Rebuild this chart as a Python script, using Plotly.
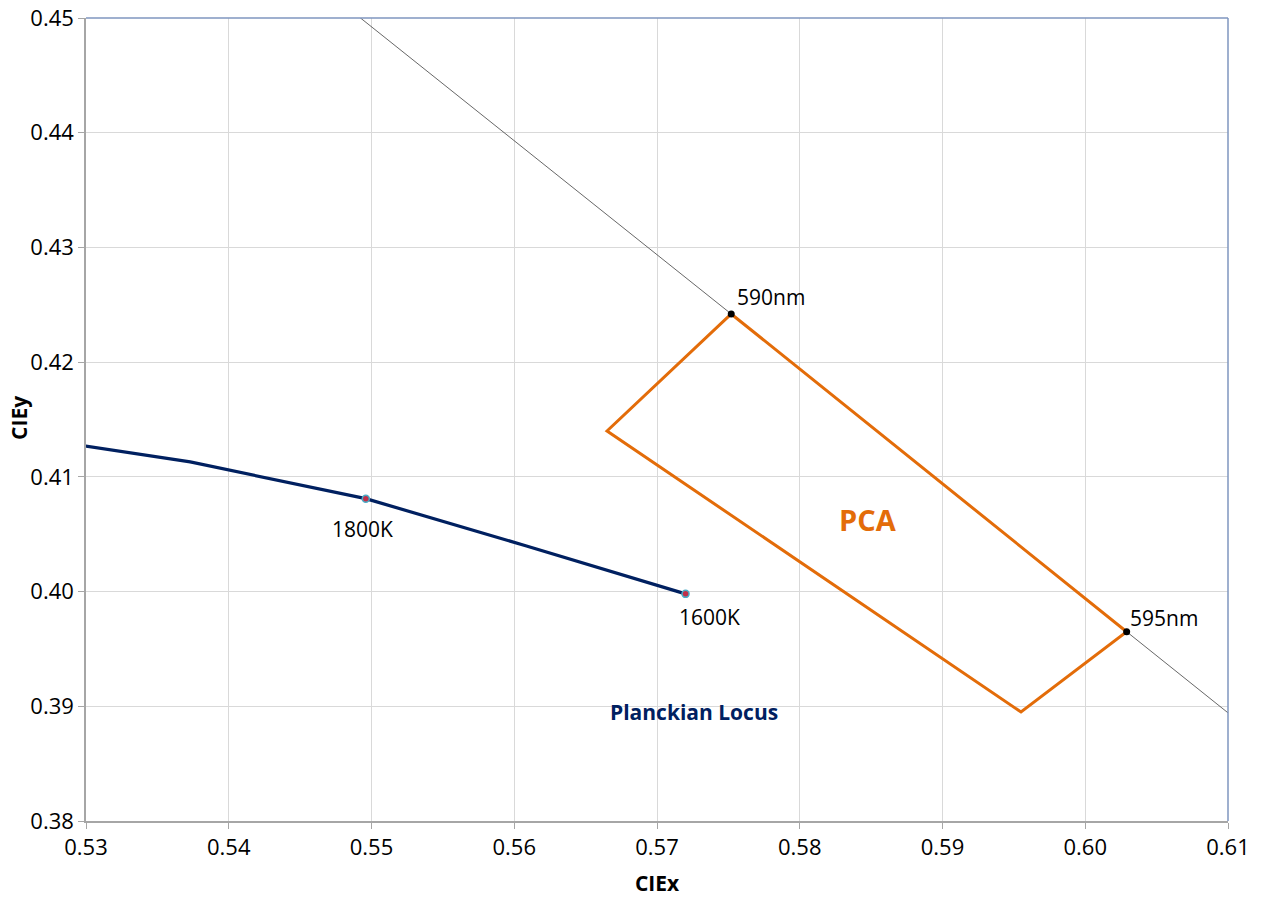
import plotly.graph_objects as go

# Spectral locus (CIE 1931) points
spec_nm = ["585nm", "590nm", "595nm", "600nm"]
spec_x = [0.5448, 0.5752, 0.6029, 0.6270]
spec_y = [0.4544, 0.4242, 0.3965, 0.3725]

# Marked wavelengths
mark_nm = ["590nm", "595nm"]
mark_x = [0.5752, 0.6029]
mark_y = [0.4242, 0.3965]

# PCA region (closed quadrilateral)
pca_x = [0.5752, 0.5665, 0.5955, 0.6029, 0.5752]
pca_y = [0.4242, 0.4140, 0.3895, 0.3965, 0.4242]

# Planckian locus
planck_T = ["2000K", "1900K", "1800K", "1700K", "1600K"]
planck_x = [0.5267, 0.5373, 0.5496, 0.5608, 0.5720]
planck_y = [0.4133, 0.4113, 0.4081, 0.4040, 0.3998]

marked_T = ["1800K", "1600K"]
marked_Tx = [0.5496, 0.5720]
marked_Ty = [0.4081, 0.3998]

FONT = "Open Sans"
NAVY = "#002060"
ORANGE = "#E36C09"

fig = go.Figure()

fig.add_trace(go.Scatter(x=spec_x, y=spec_y, mode="lines",
                         line=dict(color="#404040", width=0.8),
                         hoverinfo="skip", showlegend=False))

fig.add_trace(go.Scatter(x=pca_x, y=pca_y, mode="lines",
                         line=dict(color=ORANGE, width=3),
                         showlegend=False))

fig.add_trace(go.Scatter(x=planck_x, y=planck_y, mode="lines",
                         line=dict(color=NAVY, width=3.2),
                         showlegend=False))

fig.add_trace(go.Scatter(x=marked_Tx, y=marked_Ty, mode="markers",
                         marker=dict(size=7, color="#C0304A",
                                     line=dict(color="#4BACC6", width=1.5)),
                         showlegend=False))

fig.add_trace(go.Scatter(x=mark_x, y=mark_y, mode="markers",
                         marker=dict(size=7, color="#000000"),
                         showlegend=False))

LBL = dict(family=FONT, size=21, color="#000000")
# wavelength labels
fig.add_annotation(x=mark_x[0], y=mark_y[0], text=mark_nm[0], showarrow=False,
                   xanchor="left", yanchor="middle", xshift=4, yshift=17, font=LBL)
fig.add_annotation(x=mark_x[1], y=mark_y[1], text=mark_nm[1], showarrow=False,
                   xanchor="left", yanchor="middle", xshift=1, yshift=14, font=LBL)
# temperature labels
fig.add_annotation(x=marked_Tx[0], y=marked_Ty[0], text=marked_T[0], showarrow=False,
                   xanchor="center", yanchor="middle", xshift=-3, yshift=-30, font=LBL)
fig.add_annotation(x=marked_Tx[1], y=marked_Ty[1], text=marked_T[1], showarrow=False,
                   xanchor="center", yanchor="middle", xshift=24, yshift=-23, font=LBL)

fig.add_annotation(x=0.5848, y=0.4063, text="<b>PCA</b>", showarrow=False,
                   font=dict(family=FONT, size=29, color=ORANGE))
fig.add_annotation(x=0.5726, y=0.3895, text="<b>Planckian Locus</b>", showarrow=False,
                   font=dict(family=FONT, size=21, color=NAVY))

# y axis title
fig.add_annotation(xref="paper", yref="paper", x=0, y=0.502, text="<b>CIEy</b>",
                   textangle=-90, showarrow=False, xanchor="center", yanchor="middle",
                   xshift=-67, font=dict(family=FONT, size=21, color="#000000"))

# top and right border of plot area
fig.add_shape(type="line", xref="x domain", yref="y domain", x0=0, x1=1, y0=1, y1=1,
              line=dict(color="#7F96BF", width=1.5))
fig.add_shape(type="line", xref="x domain", yref="y domain", x0=1, x1=1, y0=0, y1=1,
              line=dict(color="#7F96BF", width=1.5))

fig.update_xaxes(range=[0.53, 0.61], dtick=0.01, tickformat=".2f",
                 showgrid=True, gridcolor="#D9D9D9", gridwidth=1,
                 showline=True, linecolor="#A6A6A6", linewidth=1.5,
                 ticks="outside", ticklen=6, tickcolor="#A6A6A6",
                 zeroline=False, automargin=False, ticklabeloverflow="allow",
                 tickfont=dict(family=FONT, size=22, color="#000000"),
                 title=dict(text="<b>CIEx</b>", font=dict(family=FONT, size=21, color="#000000"),
                            standoff=17))
fig.update_yaxes(range=[0.38, 0.45], dtick=0.01, tickformat=".2f",
                 showgrid=True, gridcolor="#D9D9D9", gridwidth=1,
                 showline=True, linecolor="#A6A6A6", linewidth=1.5,
                 ticks="outside", ticklen=6, tickcolor="#A6A6A6",
                 zeroline=False, automargin=False, ticklabeloverflow="allow",
                 tickfont=dict(family=FONT, size=22, color="#000000"))

fig.update_layout(width=1266, height=897,
                  margin=dict(l=86, r=38, t=18, b=76),
                  plot_bgcolor="#FFFFFF", paper_bgcolor="#FFFFFF",
                  showlegend=False)

fig.write_html("out.html", config={"displayModeBar": False},
               post_script="document.body.style.margin='0';")
